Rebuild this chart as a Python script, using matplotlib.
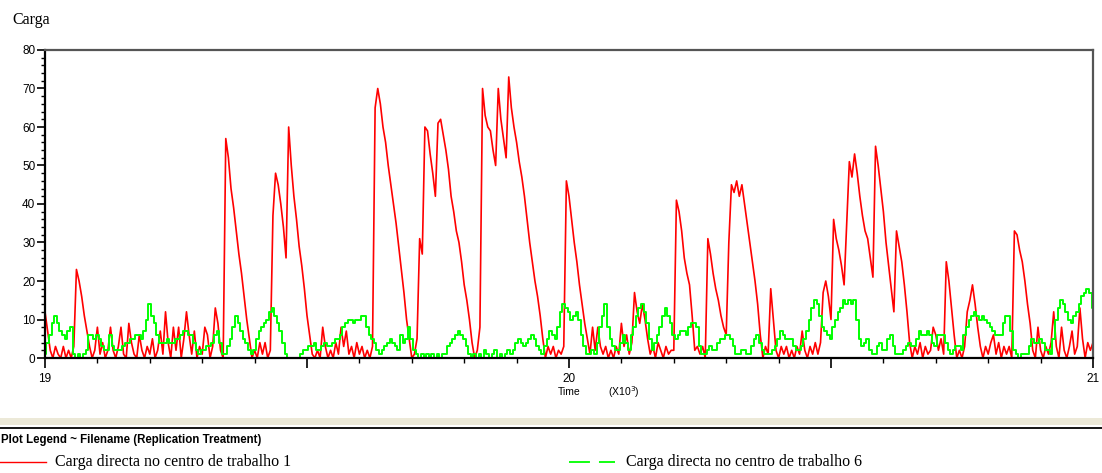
import numpy as np
import matplotlib
# no display here
matplotlib.use('Agg')
import matplotlib.pyplot as plt
from matplotlib.lines import Line2D
from matplotlib.patches import Rectangle
from matplotlib.ticker import MultipleLocator, FuncFormatter

# sample times, one reading every 5 time units
time_start = 19000
time_end = 21000
time_step = 5

# Carga directa no centro de trabalho 1 (red)
carga_1 = (
    [12, 7, 2, 0, 3, 1, 0, 3, 0, 2, 0, 3, 23, 20, 16, 11, 7, 3, 0, 2]
    + [8, 1, 4, 0, 2, 8, 2, 0, 3, 8, 1, 0, 9, 4, 1, 0, 6, 2, 0, 3]
    + [1, 5, 0, 2, 7, 1, 12, 4, 0, 8, 2, 8, 0, 5, 12, 6, 1, 7, 0, 3]
    + [1, 8, 6, 0, 3, 13, 9, 2, 0, 57, 52, 44, 39, 33, 27, 22, 16, 10, 5, 0]
    + [2, 0, 4, 1, 4, 0, 2, 37, 48, 45, 40, 34, 26, 60, 50, 42, 36, 29, 24, 18]
    + [11, 6, 1, 0, 2, 0, 8, 3, 0, 2, 0, 4, 1, 8, 3, 7, 1, 3, 0, 4]
    + [1, 3, 0, 2, 0, 3, 65, 70, 66, 60, 56, 50, 45, 40, 35, 29, 23, 17, 10, 5]
    + [0, 1, 5, 31, 27, 60, 59, 53, 48, 42, 61, 62, 58, 54, 49, 42, 38, 33, 30, 25]
    + [19, 15, 10, 4, 0, 2, 8, 70, 63, 60, 59, 54, 50, 70, 62, 57, 52, 73, 65, 60]
    + [56, 51, 47, 42, 36, 30, 25, 20, 16, 11, 5, 0, 3, 1, 3, 0, 2, 1, 3, 46]
    + [42, 36, 30, 25, 19, 14, 9, 5, 1, 8, 2, 8, 3, 1, 3, 0, 2, 0, 3, 1]
    + [9, 3, 6, 1, 4, 17, 12, 9, 14, 10, 5, 1, 3, 0, 4, 2, 0, 3, 1, 2]
    + [2, 41, 38, 33, 26, 22, 19, 11, 2, 3, 1, 3, 0, 31, 27, 22, 18, 15, 11, 8]
    + [6, 30, 45, 43, 46, 42, 45, 40, 35, 30, 25, 20, 14, 6, 0, 3, 1, 18, 10, 2]
    + [0, 3, 1, 3, 0, 2, 0, 3, 1, 7, 2, 0, 3, 1, 4, 1, 4, 17, 20, 16]
    + [10, 36, 31, 28, 24, 19, 35, 51, 47, 53, 48, 42, 37, 33, 31, 26, 21, 55, 50, 44]
    + [38, 30, 24, 18, 12, 33, 29, 25, 19, 12, 4, 0, 3, 1, 4, 0, 3, 1, 2, 8]
    + [6, 2, 5, 1, 25, 20, 13, 6, 0, 2, 0, 3, 12, 15, 19, 14, 8, 3, 0, 3]
    + [1, 4, 6, 1, 4, 0, 3, 1, 3, 0, 33, 32, 28, 25, 20, 14, 9, 2, 0, 8]
    + [2, 0, 3, 1, 4, 12, 3, 0, 8, 2, 0, 3, 7, 1, 3, 13, 5, 0, 4, 2, 4]
)

# Carga directa no centro de trabalho 6 (green)
carga_6 = (
    [1, 4, 6, 9, 11, 9, 7, 6, 5, 7, 8, 1, 0, 1, 0, 1, 2, 6, 6, 5]
    + [6, 5, 3, 2, 2, 6, 3, 2, 2, 2, 3, 4, 4, 5, 5, 6, 6, 5, 7, 10]
    + [14, 11, 9, 6, 4, 4, 4, 5, 4, 4, 5, 5, 6, 7, 7, 6, 6, 4, 2, 1]
    + [2, 2, 3, 3, 4, 6, 7, 4, 1, 1, 3, 5, 8, 11, 9, 7, 5, 4, 2, 1]
    + [2, 5, 7, 8, 9, 10, 12, 13, 11, 9, 7, 4, 1, 0, 0, 0, 0, 0, 1, 2]
    + [2, 3, 3, 4, 2, 2, 3, 4, 3, 3, 4, 5, 5, 6, 8, 9, 10, 10, 9, 10]
    + [10, 11, 11, 8, 6, 5, 4, 2, 1, 2, 3, 4, 5, 4, 3, 2, 6, 4, 5, 8]
    + [5, 2, 1, 0, 1, 0, 1, 0, 1, 0, 1, 0, 1, 1, 3, 4, 5, 6, 7, 6]
    + [5, 3, 1, 0, 1, 0, 1, 0, 2, 1, 0, 1, 2, 0, 1, 0, 1, 2, 1, 2]
    + [4, 5, 4, 3, 4, 5, 6, 5, 3, 2, 1, 3, 5, 7, 6, 5, 8, 12, 14, 13]
    + [12, 10, 11, 12, 10, 6, 3, 1, 1, 2, 1, 4, 8, 11, 14, 8, 5, 3, 2, 2]
    + [4, 6, 4, 2, 6, 8, 11, 13, 14, 12, 9, 5, 2, 4, 6, 8, 11, 13, 11, 9]
    + [6, 5, 6, 7, 7, 6, 8, 9, 9, 8, 3, 1, 1, 2, 3, 2, 2, 4, 5, 5]
    + [6, 6, 5, 3, 1, 1, 2, 2, 1, 1, 3, 5, 6, 4, 2, 1, 1, 1, 2, 3]
    + [5, 7, 6, 5, 5, 5, 3, 2, 2, 3, 5, 7, 10, 13, 15, 14, 11, 8, 7, 6]
    + [5, 8, 10, 12, 13, 15, 14, 15, 14, 15, 10, 5, 3, 4, 5, 2, 1, 1, 3, 4]
    + [2, 2, 5, 6, 3, 1, 1, 1, 2, 3, 4, 3, 3, 5, 7, 6, 6, 7, 6, 4]
    + [3, 6, 6, 6, 4, 2, 1, 2, 3, 3, 2, 6, 8, 10, 11, 12, 11, 10, 11, 10]
    + [9, 8, 7, 6, 6, 6, 9, 11, 11, 7, 2, 1, 0, 1, 1, 1, 3, 5, 4, 4]
    + [5, 4, 2, 2, 1, 5, 10, 13, 15, 14, 12, 10, 9, 11, 12, 14, 16, 17, 18, 17, 13]
)

series_labels = ['Carga directa no centro de trabalho 1',
                 'Carga directa no centro de trabalho 6']
legend_title = 'Plot Legend ~ Filename (Replication Treatment)'

times = np.arange(time_start, time_end + 1, time_step)

sans = 'Liberation Sans'
serif = 'Liberation Serif'

fig = plt.figure(figsize=(11.02, 4.73), dpi=100)
fig.patch.set_facecolor('white')
ax = fig.add_axes([45 / 1102, 115 / 473, 1048 / 1102, 308 / 473])

ax.plot(times, carga_1, color='#ff0000', lw=1.2)
# the green trace is a jagged staircase in the original
ax.plot(times, carga_6, color='#00ff00', lw=1.4, drawstyle='steps-mid')

ax.set_xlim(time_start, time_end)
ax.set_ylim(0, 80)

# axes frame
for side in ['left', 'bottom']:
    ax.spines[side].set_color('black')
    ax.spines[side].set_linewidth(1.6)
for side in ['top', 'right']:
    ax.spines[side].set_color('#555555')
    ax.spines[side].set_linewidth(1.6)

# x ticks: long every 500, short every 100, labels in thousands
ax.xaxis.set_major_locator(MultipleLocator(500))
ax.xaxis.set_minor_locator(MultipleLocator(100))
ax.xaxis.set_major_formatter(FuncFormatter(
    lambda v, p: '%d' % round(v / 1000) if v % 1000 == 0 else ''))
ax.tick_params(axis='x', which='major', length=7.5, width=1.2, pad=3,
               labelsize=8.5, direction='out')
ax.tick_params(axis='x', which='minor', length=3.6, width=1.0, direction='out')

ax.yaxis.set_major_locator(MultipleLocator(10))
ax.yaxis.set_minor_locator(MultipleLocator(2))
ax.tick_params(axis='y', which='major', length=5.5, width=1.2, pad=1.5,
               labelsize=8.5, direction='out')
ax.tick_params(axis='y', which='minor', length=2.6, width=1.0, direction='out')
for lab in ax.get_xticklabels() + ax.get_yticklabels():
    lab.set_fontfamily(sans)

fig.text(12 / 1102, 1 - 20 / 473, 'Carga', fontsize=11.5, family=serif,
         va='center', ha='left')
fig.text(569 / 1102, 1 - 392 / 473, 'Time', fontsize=7.5, family=sans,
         va='center', ha='center')
fig.text(608 / 1102, 1 - 392 / 473, r'(X10$^3$)', fontsize=7.5, family=sans,
         va='center', ha='left')

# legend panel below the plot
fig.add_artist(Rectangle((0, 1 - 425 / 473), 1, 7 / 473, transform=fig.transFigure,
                         facecolor='#ece9d8', edgecolor='none'))
fig.add_artist(Rectangle((0, 1 - 428.5 / 473), 1, 2 / 473, transform=fig.transFigure,
                         facecolor='#1a1a1a', edgecolor='none'))
fig.text(1 / 1102, 1 - 440 / 473, legend_title, fontsize=8.3, family=sans,
         weight='bold', va='center', ha='left')

y_leg = 1 - 462 / 473
fig.add_artist(Line2D([0, 46 / 1102], [y_leg, y_leg], transform=fig.transFigure,
                      color='#ff0000', lw=1.0))
fig.text(55 / 1102, y_leg, series_labels[0], fontsize=11.5, family=serif,
         va='center', ha='left')
fig.add_artist(Line2D([569 / 1102, 615 / 1102], [y_leg, y_leg], transform=fig.transFigure,
                      color='#00ff00', lw=1.3, dashes=(11.6, 5.0)))
fig.text(626 / 1102, y_leg, series_labels[1], fontsize=11.5, family=serif,
         va='center', ha='left')

fig.savefig('out.png', dpi=100)
